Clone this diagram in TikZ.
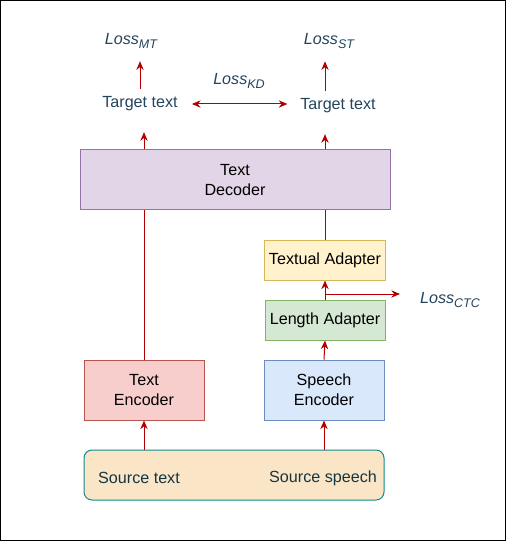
\documentclass[tikz,border=0pt]{standalone}
\usepackage{fontspec}
\setmainfont{Liberation Sans}
\usetikzlibrary{arrows.meta}
\definecolor{arrowred}{HTML}{B20000}
\definecolor{labeltext}{HTML}{23445D}
\definecolor{srctext}{HTML}{143642}
\definecolor{decfill}{HTML}{E1D5E7}
\definecolor{decline}{HTML}{9673A6}
\definecolor{txtfill}{HTML}{FFF2CC}
\definecolor{txtline}{HTML}{D6B656}
\definecolor{lenfill}{HTML}{D5E8D4}
\definecolor{lenline}{HTML}{82B366}
\definecolor{encfill}{HTML}{F8CECC}
\definecolor{encline}{HTML}{B85450}
\definecolor{spfill}{HTML}{DAE8FC}
\definecolor{spline}{HTML}{6C8EBF}
\definecolor{srcfill}{HTML}{FAE5C7}
\definecolor{srcline}{HTML}{0F8B8D}
\newcommand{\losssub}[1]{\raisebox{-2.6pt}{\fontsize{9.4}{10}\selectfont #1}}
\begin{document}
\begin{tikzpicture}[x=0.75pt, y=-0.75pt, line width=0.75pt,
    every node/.style={font=\fontsize{12.1}{15}\selectfont},
    block/.style={draw, minimum width=90pt, minimum height=45pt, align=center},
    label/.style={text=labeltext},
    loss/.style={text=labeltext, font=\fontsize{12.1}{15}\selectfont\itshape},
    arr/.style={draw=arrowred, -{Stealth[length=6.5pt, width=5.5pt]}},
    link/.style={draw=arrowred}]
    \useasboundingbox (0,0) rectangle (506,541);
    \draw[black] (0.5,0.5) rectangle (505.5,540.5);

    \node[block, fill=decfill, draw=decline, minimum width=232.5pt] (decoder) at (235, 180) {Text\\Decoder};
    \node[block, fill=txtfill, draw=txtline, minimum height=30pt] (textual) at (325, 260) {Textual Adapter};
    \node[block, fill=lenfill, draw=lenline, minimum height=30pt] (length) at (325, 320) {Length Adapter};
    \node[block, fill=encfill, draw=encline] (textenc) at (144, 390) {Text\\Encoder};
    \node[block, fill=spfill, draw=spline] (speechenc) at (324, 390) {Speech\\Encoder};
    \node[draw=srcline, fill=srcfill, rounded corners=6pt, minimum width=225pt, minimum height=37.5pt] (source) at (234, 475) {};

    \node[text=srctext] (srct) at (139, 478) {Source text};
    \node[text=srctext] (srcs) at (323, 478) {Source speech};

    \node[label] (tgtl) at (140, 104) {Target text};
    \node[label] (tgtr) at (338, 106) {Target text};

    \node[loss] (lossmt) at (131, 41) {Loss\losssub{MT}};
    \node[loss] (lossst) at (329, 41) {Loss\losssub{ST}};
    \node[loss] (losskd) at (239, 81) {Loss\losssub{KD}};
    \node[loss] (lossctc) at (450, 300) {Loss\losssub{CTC}};

    % source to encoders
    \draw[arr] (source.north -| textenc.south) -- (textenc.south);
    \draw[arr] (source.north -| speechenc.south) -- (speechenc.south);

    % speech branch
    \draw[arr] (speechenc.north) -- (length.south);
    \draw[arr] (length.north) -- (textual.south);
    \coordinate (ctc) at (325, 294);
    \coordinate (ctcend) at (400, 294);
    \draw[arr] (ctc) -- (ctcend);

    % into decoder
    \draw[link] (textenc.north) -- (textenc.north |- decoder.south);
    \draw[link] (textual.north) -- (textual.north |- decoder.south);

    % decoder to targets
    \draw[arr, shorten >=12pt] (textenc.north |- decoder.north) -- (textenc.north |- tgtl.south);
    \draw[arr, shorten >=12pt] (textual.north |- decoder.north) -- (textual.north |- tgtr.south);

    % targets to losses
    \draw[arr, shorten <=2pt, shorten >=6pt] (tgtl.north) -- (tgtl.north |- lossmt.south);
    \draw[arr, shorten <=2pt, shorten >=6pt] (textual.north |- tgtr.north) -- (textual.north |- lossst.south);
    \draw[draw=arrowred, {Stealth[length=6.5pt, width=5.5pt]}-{Stealth[length=6.5pt, width=5.5pt]}, shorten <=7pt, shorten >=6pt] (tgtl.east) -- (tgtl.east -| tgtr.west);
\end{tikzpicture}
\end{document}
